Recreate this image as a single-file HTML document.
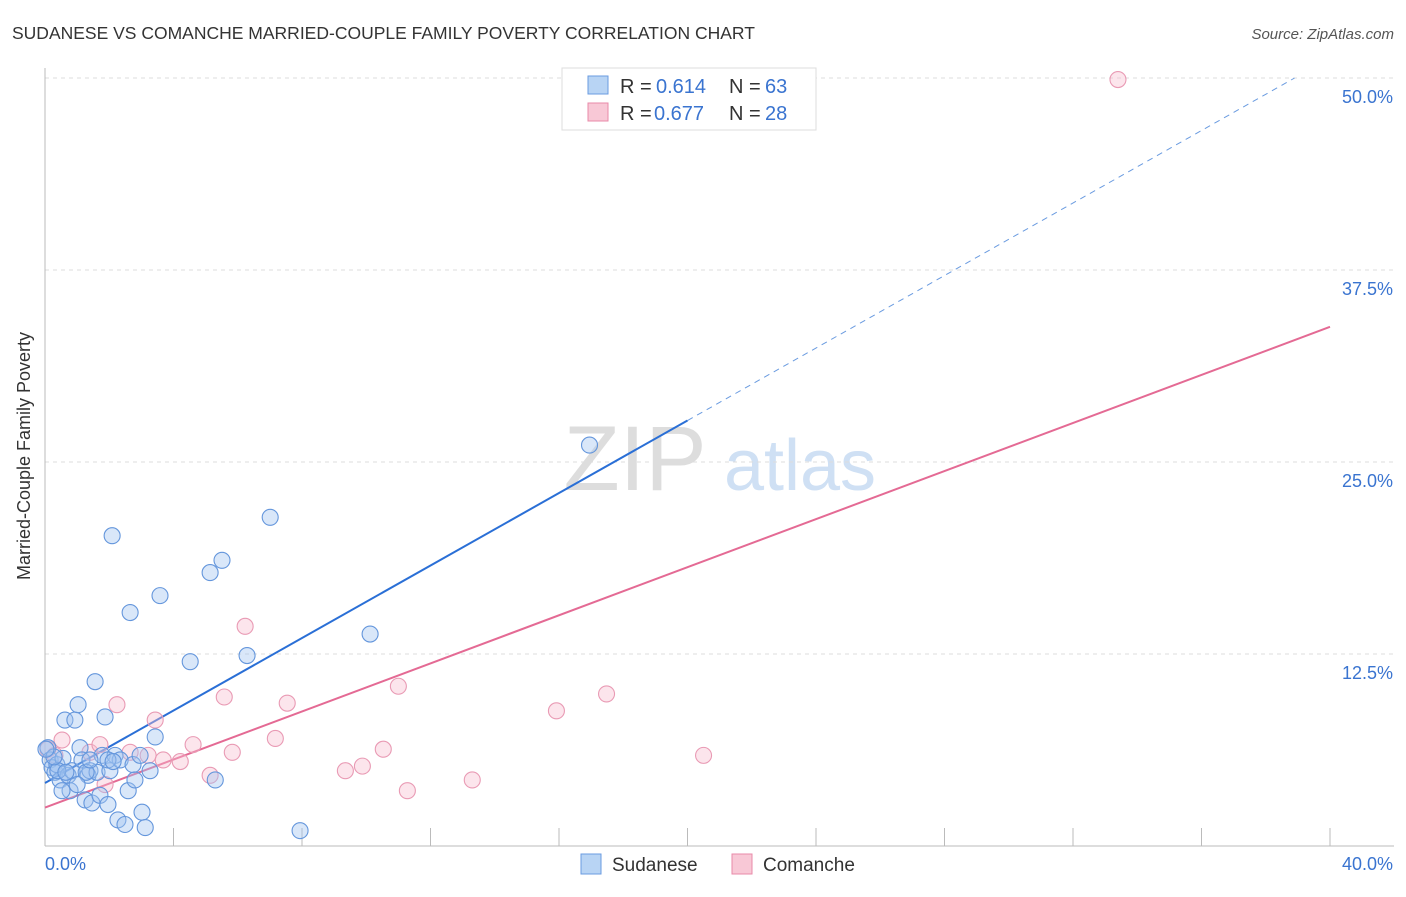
<!DOCTYPE html>
<html><head><meta charset="utf-8"><style>
body{margin:0;background:#fff;font-family:"Liberation Sans",sans-serif}
svg text{font-family:"Liberation Sans",sans-serif}
</style></head><body>
<svg id="chart" width="1406" height="892" viewBox="0 0 1406 892" xmlns="http://www.w3.org/2000/svg">
<text x="12" y="39" font-size="17.5" fill="#333">SUDANESE VS COMANCHE MARRIED-COUPLE FAMILY POVERTY CORRELATION CHART</text>
<text x="1394" y="39" font-size="15" fill="#555" font-style="italic" text-anchor="end">Source: ZipAtlas.com</text>
<text x="30" y="456" font-size="18" fill="#333" text-anchor="middle" transform="rotate(-90 30 456)">Married-Couple Family Poverty</text>
<g><text x="635" y="490" font-size="92" fill="#ddd" font-family="Liberation Serif" text-anchor="middle">ZIP</text><text x="800" y="490" font-size="72" fill="#cfe0f4" text-anchor="middle">atlas</text></g>
<g id="grid"></g><g id="axes"></g><g id="lines"></g><g id="pts"></g>
<g>
<rect x="562" y="68" width="254" height="62" fill="#fff" stroke="#ddd"/>
<rect x="588" y="76" width="20" height="18" fill="#b8d4f4" stroke="#6a9be0"/>
<text x="620" y="93" font-size="20" fill="#333">R =</text><text x="656" y="93" font-size="20" fill="#3a74d0">0.614</text>
<text x="729" y="93" font-size="20" fill="#333">N =</text><text x="765" y="93" font-size="20" fill="#3a74d0">63</text>
<rect x="588" y="103" width="20" height="18" fill="#f8c8d6" stroke="#e88aa8"/>
<text x="620" y="120" font-size="20" fill="#333">R =</text><text x="654" y="120" font-size="20" fill="#3a74d0">0.677</text>
<text x="729" y="120" font-size="20" fill="#333">N =</text><text x="765" y="120" font-size="20" fill="#3a74d0">28</text>
</g>
<g>
<rect x="581" y="854" width="20" height="20" fill="#b8d4f4" stroke="#6a9be0"/>
<text x="612" y="871" font-size="19" fill="#333">Sudanese</text>
<rect x="732" y="854" width="20" height="20" fill="#f8c8d6" stroke="#e88aa8"/>
<text x="763" y="871" font-size="19" fill="#333">Comanche</text>
</g>
</svg>
<script>
const yTicks=[12.5,25,37.5,50];
const yTickLabels=["12.5%","25.0%","37.5%","50.0%"];
const xTicks=[0,4,8,12,16,20,24,28,32,36,40];
const blueX=[.09,.16,.22,.31,.37,.47,.56,.62,.72,.78,.84,.93,1.03,1.09,1.15,1.25,1.34,1.40,1.46,1.56,1.62,1.71,1.78,1.87,1.96,2.02,2.09,2.18,2.27,2.34,2.49,2.59,2.65,2.74,2.80,2.96,3.02,3.12,3.27,3.43,3.58,4.52,5.14,5.30,5.51,6.29,7.01,7.94,10.12,16.95,.40,.65,1.28,.28,.53,1.96,2.12,1.00,.03,1.40];
const blueY=[6.4,5.6,5.1,4.8,5.3,4.3,5.7,8.2,4.6,3.6,4.9,8.2,9.2,6.4,5.6,3.0,4.6,4.9,2.8,10.7,4.8,3.3,5.9,8.4,2.7,4.9,20.2,5.9,1.7,5.6,1.4,3.6,15.2,5.3,4.3,5.9,2.2,1.2,4.9,7.1,16.3,12.0,17.8,4.3,18.6,12.4,21.4,1.0,13.8,26.1,4.9,4.8,4.8,5.8,3.6,5.6,5.5,4.0,6.3,5.6];
const pinkX=[.09,.31,.53,1.40,1.71,1.87,2.24,2.65,3.21,3.43,3.68,4.21,4.61,5.14,5.58,5.83,6.23,7.17,7.54,9.35,9.88,10.53,11.00,11.28,13.30,15.92,17.48,20.50,33.40];
const pinkY=[6.3,5.9,6.9,6.1,6.6,4.0,9.2,6.1,5.9,8.2,5.6,5.5,6.6,4.6,9.7,6.1,14.3,7.0,9.3,4.9,5.2,6.3,10.4,3.6,4.3,8.8,9.9,5.9,49.9];
const blueFit=[4.1,(27.7-4.1)/20];
const pinkFit=[2.5,(33.8-2.5)/40];
const X=v=>45+v*32.125, Y=v=>846-v*15.36;
const NS="http://www.w3.org/2000/svg";
function mk(p,t,a){const e=document.createElementNS(NS,t);for(const k in a)e.setAttribute(k,a[k]);p.appendChild(e);return e;}
const grid=document.getElementById('grid'),axes=document.getElementById('axes'),lines=document.getElementById('lines'),pts=document.getElementById('pts');
yTicks.forEach((t,i)=>{
 const l=mk(grid,'line',{x1:45,x2:1394,y1:Y(t),y2:Y(t),stroke:'#ddd','stroke-dasharray':'4,4'});
 
 
 const tx=mk(axes,'text',{x:1393,y:Y(t)+25,'font-size':18,fill:'#3a74d0','text-anchor':'end'});
 tx.textContent=yTickLabels[i];
 
 
});
let ax=mk(axes,'line',{x1:45,x2:1394,y1:846,y2:846,stroke:'#bbb'});


ax=mk(axes,'line',{x1:45,x2:45,y1:68,y2:846,stroke:'#bbb'});


xTicks.forEach(t=>{const l=mk(axes,'line',{x1:X(t),x2:X(t),y1:828,y2:846,stroke:'#bbb'});
 
 });
let t0=mk(axes,'text',{x:45,y:870,'font-size':18,fill:'#3a74d0','text-anchor':'start'});t0.textContent='0.0%';


t0=mk(axes,'text',{x:1393,y:870,'font-size':18,fill:'#3a74d0','text-anchor':'end'});t0.textContent='40.0%';


function pt(x,y,fill,stroke,name){const c=mk(pts,'circle',{cx:X(x),cy:Y(y),r:8,fill:fill,stroke:stroke,'stroke-width':1.1});
 
 }
pinkX.forEach((x,i)=>pt(x,pinkY[i],'rgba(248,190,208,0.4)','#e99ab4','comanche-point'));
blueX.forEach((x,i)=>pt(x,blueY[i],'rgba(160,195,240,0.4)','#6496dc','sudanese-point'));
const bf=x=>blueFit[0]+blueFit[1]*x, pf=x=>pinkFit[0]+pinkFit[1]*x;
let ln=mk(lines,'line',{x1:X(0),y1:Y(bf(0)),x2:X(20),y2:Y(bf(20)),stroke:'#2a6fd6','stroke-width':2});


const xe=(50-blueFit[0])/blueFit[1];
ln=mk(lines,'line',{x1:X(20),y1:Y(bf(20)),x2:X(xe),y2:Y(50),stroke:'#6a9be0','stroke-width':1,'stroke-dasharray':'6,5'});


ln=mk(lines,'line',{x1:X(0),y1:Y(pf(0)),x2:X(40),y2:Y(pf(40)),stroke:'#e46a94','stroke-width':2});


</script>
</body></html>
